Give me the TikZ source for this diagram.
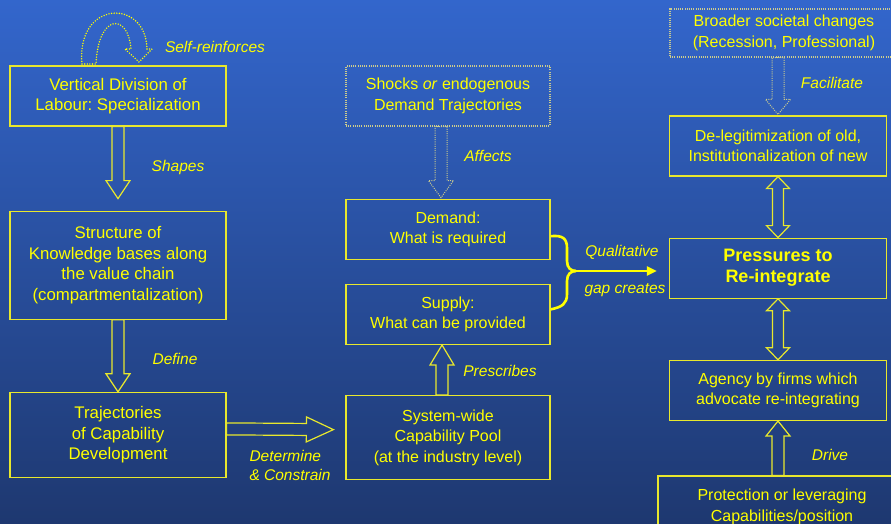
\documentclass[tikz,border=0pt]{standalone}
\usepackage{fontspec}
\setmainfont{Liberation Sans}
\usetikzlibrary{positioning, calc, arrows.meta}
\frenchspacing

\definecolor{bgtop}{RGB}{51,102,204}
\definecolor{bgbottom}{RGB}{30,56,112}
\definecolor{boxline}{RGB}{232,232,45}
\definecolor{boxtext}{RGB}{255,255,0}
\definecolor{dotline}{RGB}{205,205,140}

% hollow block arrow: #2 -> #3, half shaft #4, half head #5, head length #6
\newcommand{\blockarrow}[6][]{%
  \path (#2) coordinate (ba-a) (#3) coordinate (ba-b);
  \path ($(ba-b)!#6!(ba-a)$) coordinate (ba-h);
  \draw[#1] ($(ba-a)!#4!90:(ba-b)$) -- ($(ba-h)!#4!-90:(ba-a)$) -- ($(ba-h)!#5!-90:(ba-a)$) -- (ba-b)
    -- ($(ba-h)!#5!90:(ba-a)$) -- ($(ba-h)!#4!90:(ba-a)$) -- ($(ba-a)!#4!-90:(ba-b)$) -- cycle;
}
% same, with a head at both ends
\newcommand{\dblarrow}[6][]{%
  \path (#2) coordinate (ba-a) (#3) coordinate (ba-b);
  \path ($(ba-a)!#6!(ba-b)$) coordinate (ba-g) ($(ba-b)!#6!(ba-a)$) coordinate (ba-h);
  \draw[#1] (ba-a) -- ($(ba-g)!#5!90:(ba-b)$) -- ($(ba-g)!#4!90:(ba-b)$) -- ($(ba-h)!#4!-90:(ba-a)$)
    -- ($(ba-h)!#5!-90:(ba-a)$) -- (ba-b) -- ($(ba-h)!#5!90:(ba-a)$) -- ($(ba-h)!#4!90:(ba-a)$)
    -- ($(ba-g)!#4!-90:(ba-b)$) -- ($(ba-g)!#5!-90:(ba-b)$) -- cycle;
}

\begin{document}
\begin{tikzpicture}[
    x=1pt, y=-1pt,
    box/.style={rectangle, draw=boxline, line width=1.2pt, text=boxtext, minimum width=217pt, minimum height=60pt, align=center, inner sep=2pt, font=\fontsize{16}{20.5}\selectfont},
    bigtext/.style={font=\fontsize{16.8}{20.5}\selectfont},
    dotbox/.style={box, draw=dotline, dash pattern=on 1pt off 1.2pt},
    lbl/.style={text=boxtext, font=\fontsize{15.5}{19}\selectfont\itshape},
    barrow/.style={draw=boxline, line width=1.2pt},
    dotarrow/.style={draw=dotline, line width=1pt, dash pattern=on 1pt off 1.2pt},
    loopline/.style={draw=boxtext, line width=1.6pt, line cap=round, dash pattern=on 0pt off 2.6pt},
    gapline/.style={draw=boxtext, line width=2.6pt},
    gaparrow/.style={gapline, -{Triangle[length=10pt, width=9pt]}}
]

\path[use as bounding box] (0,0) rectangle (891,523);
\clip (0,0) rectangle (891,523);
\shade[top color=bgtop, bottom color=bgbottom] (0,0) rectangle (891,523);

% Nodes
\node[box, bigtext, minimum width=216pt] (division) at (118,96) {Vertical Division of\\Labour: Specialization};
\node[box, bigtext, minimum width=216pt, minimum height=108pt, below=84pt of division] (structure) {Structure of\\Knowledge bases along\\the value chain\\(compartmentalization)};
\node[box, bigtext, minimum width=216pt, minimum height=85pt, below=72pt of structure] (trajectories) {Trajectories\\of Capability\\Development};

\node[dotbox, minimum width=204pt] (shocks) at (448,96) {Shocks \textit{or} endogenous\\Demand Trajectories};
\node[box, minimum width=204pt, below=72pt of shocks] (demand) {Demand:\\What is required};
\node[box, minimum width=204pt, below=24pt of demand] (supply) {Supply:\\What can be provided};
\node[box, minimum width=204pt, minimum height=84pt, below=50pt of supply] (system) {System-wide\\Capability Pool\\(at the industry level)};

\node[dotbox, minimum width=228pt, minimum height=48pt] (broader) at (784,33) {Broader societal changes\\(Recession, Professional)};
\node[box] (deleg) at (778,146) {De-legitimization of old,\\Institutionalization of new};
\node[box, font=\fontsize{18}{21}\selectfont\bfseries, below=61pt of deleg] (pressures) {Pressures to\\Re-integrate};
\node[box, below=61pt of pressures] (agency) {Agency by firms which\\advocate re-integrating};
\node[box, minimum width=248pt, minimum height=62pt] (protection) at (782,507) {Protection or leveraging\\Capabilities/position};

% Labels
\node[lbl] (selflbl) at (215,47) {Self-reinforces};
\node[lbl] (shapeslbl) at (178,167) {Shapes};
\node[lbl] (definelbl) at (175,359) {Define};
\node[lbl, align=left, anchor=west] (determinelbl) at (246,465) {Determine\\\& Constrain};
\node[lbl] (affectslbl) at (488,156) {Affects};
\node[lbl] (prescribeslbl) at (500,371) {Prescribes};
\node[lbl] (qualitativelbl) at (622,252) {Qualitative};
\node[lbl] (gaplbl) at (625,290) {gap creates};
\node[lbl] (facilitatelbl) at (832,83) {Facilitate};
\node[lbl] (drivelbl) at (830,455) {Drive};

% Arrows
\draw[loopline] (82,64) .. controls (76,0) and (146,-2) .. (147,49) -- (152,49) -- (139,62) -- (125,49) -- (131,49)
  .. controls (128,12) and (98,14) .. (96,64) -- cycle;

\blockarrow[barrow]{division.south}{[yshift=12pt]structure.north}{6pt}{12pt}{18pt}
\blockarrow[barrow]{structure.south}{trajectories.north}{6pt}{12pt}{18pt}
\blockarrow[barrow]{[yshift=6pt]trajectories.east}{[xshift=-12pt,yshift=8pt]system.west}{6pt}{12.5pt}{27pt}
\blockarrow[barrow]{[xshift=-6pt]system.north}{[xshift=-6pt]supply.south}{6pt}{12pt}{20pt}
\blockarrow[dotarrow]{[xshift=-7pt]shocks.south}{[xshift=-7pt,yshift=1pt]demand.north}{6pt}{12.5pt}{17pt}
\blockarrow[dotarrow]{[xshift=-6pt]broader.south}{[yshift=1pt]deleg.north}{6pt}{12.5pt}{15pt}
\dblarrow[barrow]{deleg.south}{pressures.north}{5.5pt}{11.5pt}{12pt}
\dblarrow[barrow]{pressures.south}{agency.north}{5.5pt}{11.5pt}{12pt}
\blockarrow[barrow]{[xshift=-4pt]protection.north}{agency.south}{6pt}{12pt}{15pt}

\coordinate (gap) at (576,271);
\draw[gapline] ([yshift=-7pt]demand.east) .. controls (562,235) and (567,238) .. (567,248) -- (567,261)
  .. controls (567,268) and (571,271) .. (gap);
\draw[gapline] ([yshift=5pt]supply.east) .. controls (562,307) and (567,304) .. (567,294) -- (567,281)
  .. controls (567,274) and (571,271) .. (gap);
\draw[gaparrow, shorten >=12pt] (gap) -- (gap -| pressures.west);

\end{tikzpicture}
\end{document}
